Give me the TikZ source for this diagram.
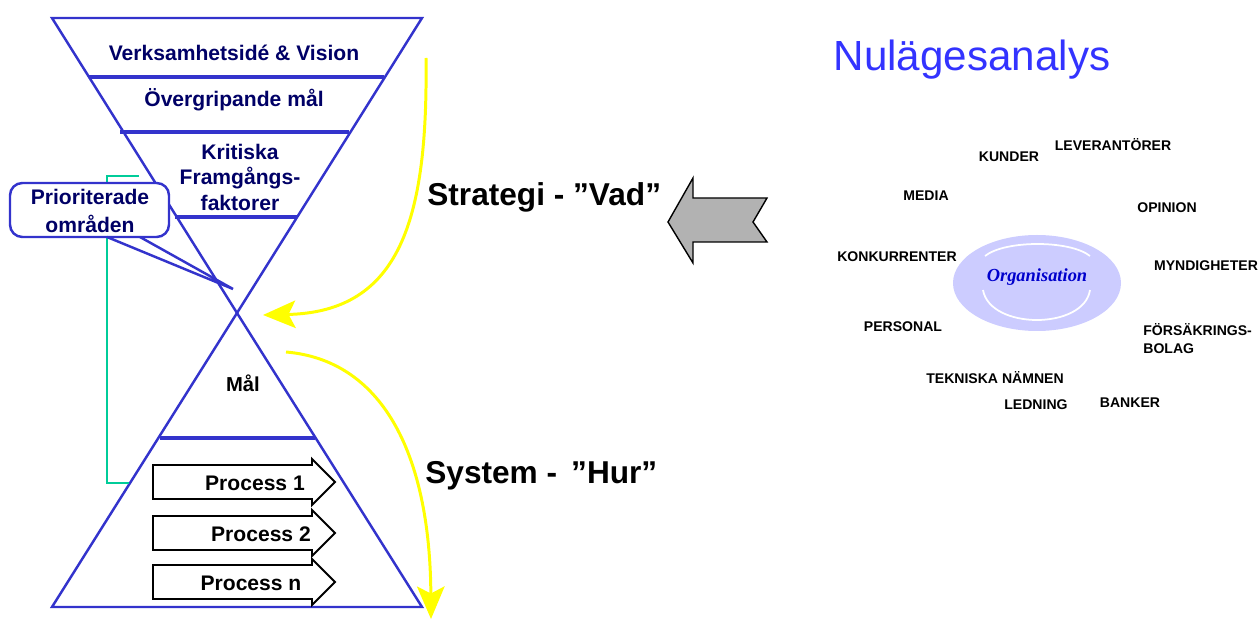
\documentclass[tikz,border=0pt]{standalone}
\usepackage{fontspec}
\setmainfont{Liberation Sans}
\newfontfamily\orgfont{Liberation Serif}
\usetikzlibrary{arrows.meta}
\definecolor{trikant}{RGB}{51,51,204}
\definecolor{marin}{RGB}{0,0,102}
\definecolor{gulpil}{RGB}{255,255,0}
\definecolor{turkos}{RGB}{0,204,153}
\definecolor{lila}{RGB}{204,204,255}
\definecolor{rubrik}{RGB}{51,51,255}
\definecolor{orgbla}{RGB}{0,0,204}
\begin{document}
\begin{tikzpicture}[x=0.02cm,y=-0.02cm,
	kant/.style={draw=trikant,line width=1.4pt},
	skilje/.style={draw=trikant,line width=1.9pt},
	rubriktext/.style={text=marin,font=\fontsize{12}{14.5}\selectfont\bfseries,align=center},
	aktor/.style={font=\fontsize{8}{10.2}\selectfont\bfseries,inner sep=0pt},
	gulpilen/.style={draw=gulpil,line width=1.7pt,-{Stealth[length=0.65cm,width=0.55cm,inset=0.14cm]}},
	processpil/.style={draw=black,fill=white,line width=1.1pt},
	sidtext/.style={font=\fontsize{18}{20}\selectfont\bfseries,inner sep=0pt}]
	\useasboundingbox (0,0) rectangle (1259,621);
	% timglaset
	\draw[kant] (52,18) -- (422,18) -- (237,313) -- cycle;
	\draw[kant] (237,313) -- (422,607) -- (52,607) -- cycle;
	\draw[skilje] (89,77) -- (384,77);
	\draw[skilje] (120,132) -- (349,132);
	\draw[skilje] (175,217) -- (297,217);
	\draw[skilje] (160,438) -- (315,438);
	\node[rubriktext] (vision) at (234,53) {Verksamhetsidé \& Vision};
	\node[rubriktext] (overmal) at (234,100) {Övergripande mål};
	\node[rubriktext] (kritiska) at (240,177) {Kritiska\\Framgångs-\\faktorer};
	\node[rubriktext,text=black,font=\fontsize{11.5}{13}\selectfont\bfseries] (mal) at (243,383) {Mål};
	% koppling och pratbubbla
	\draw[turkos,line width=0.9pt] (139,176) -- (107,176) -- (107,483) -- (129,483);
	\draw[kant,fill=white,rounded corners=7pt] (10,183) rectangle (169,237);
	\draw[kant] (107,237) -- (233,289) -- (140,237);
	\node[rubriktext,font=\fontsize{12}{16}\selectfont\bfseries] (prio) at (90,211) {Prioriterade\\områden};
	% processer
	\foreach \yc/\namn/\xt in {482/Process 1/255, 533/Process 2/261, 582/Process n/251} {
		\filldraw[processpil] (153,\yc-17) -- (312,\yc-17) -- (312,\yc-23) -- (335,\yc) -- (312,\yc+23) -- (312,\yc+17) -- (153,\yc+17) -- cycle;
		\node[font=\fontsize{12}{14}\selectfont\bfseries] (p\yc) at (\xt,\yc+1) {\namn};
	}
	% gula pilar
	\coordinate (vadstart) at (426,58);
	\coordinate (vadspets) at (263,315);
	\coordinate (hurstart) at (286,352);
	\coordinate (hurspets) at (431,619);
	\draw[gulpilen] (vadstart) .. controls (428,220) and (400,312) .. (vadspets);
	\draw[gulpilen] (hurstart) .. controls (380,360) and (430,450) .. (hurspets);
	\node[sidtext,anchor=west] (vad) at (427,197) {Strategi - ”Vad”};
	\node[sidtext,anchor=west] (hur) at (425,476) {System - \,”Hur”};
	% grå pil
	\filldraw[fill=black!30,draw=black,line width=0.8pt] (668,222) -- (693,178) -- (693,198) -- (767,198) -- (753,222) -- (767,242) -- (693,242) -- (693,263) -- cycle;
	% nulägesanalys
	\node[text=rubrik,font=\fontsize{24}{28}\selectfont] (nulage) at (972,60) {Nulägesanalys};
	\fill[lila] (1037,283) ellipse [x radius=84, y radius=48];
	\draw[white,line width=1pt] (985,256) .. controls (1005,240) and (1070,240) .. (1090,256);
	\draw[white,line width=1pt] (983,290) .. controls (990,330) and (1084,330) .. (1090,290);
	\node[text=orgbla,font=\orgfont\fontsize{10.5}{12}\selectfont\bfseries\itshape] (org) at (1037,277) {Organisation};
	\node[aktor] (kunder) at (1009,157) {KUNDER};
	\node[aktor] (lev) at (1113,145) {LEVERANTÖRER};
	\node[aktor] (media) at (926,196) {MEDIA};
	\node[aktor] (opinion) at (1167,208) {OPINION};
	\node[aktor] (konk) at (897,257) {KONKURRENTER};
	\node[aktor] (mynd) at (1206,266) {MYNDIGHETER};
	\node[aktor] (pers) at (903,327) {PERSONAL};
	\node[aktor,anchor=west,align=left] (fors) at (1143,339) {FÖRSÄKRINGS-\\BOLAG};
	\node[aktor] (tekn) at (995,378) {TEKNISKA NÄMNEN};
	\node[aktor] (ledning) at (1036,405) {LEDNING};
	\node[aktor] (banker) at (1130,403) {BANKER};
\end{tikzpicture}
\end{document}
